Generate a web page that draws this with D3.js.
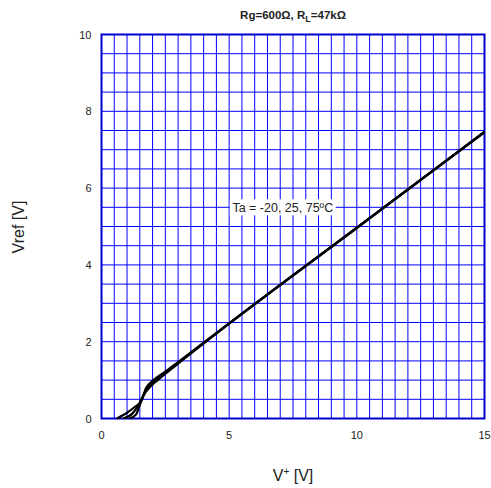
<!DOCTYPE html>
<html>
<head>
<meta charset="utf-8">
<script src="https://cdn.jsdelivr.net/npm/d3@7"></script>
<style>
  body { margin: 0; background: #fff; }
  text { font-family: "Liberation Sans", Arial, sans-serif; fill: #222; }
</style>
</head>
<body>
<div id="wrapper"></div>
<script>
// data: Vref vs V+ at three temperatures
const xTicks = [0, 5, 10, 15];
const yTicks = [0, 2, 4, 6, 8, 10];
const tempLabels = ["-20", "25", "75"];
const curveM20 = [[0.6, 0], [1.0, 0.15], [1.3, 0.3], [1.55, 0.45], [1.75, 0.8], [2.0, 0.98], [2.5, 1.22], [3, 1.47], [5, 2.48], [10, 4.97], [15, 7.45]];
const curve25 = [[0.85, 0], [1.2, 0.12], [1.45, 0.35], [1.6, 0.55], [1.8, 0.8], [2.1, 0.98], [2.5, 1.2], [3, 1.45], [5, 2.48], [10, 4.97], [15, 7.46]];
const curve75 = [[1.1, 0], [1.35, 0.1], [1.5, 0.35], [1.65, 0.6], [1.9, 0.82], [2.2, 1.0], [3, 1.43], [5, 2.47], [10, 4.96], [15, 7.47]];

const width = 491, height = 488;
const margin = { top: 34.5, right: 6.5, bottom: 69.5, left: 101.5 };
const innerW = width - margin.left - margin.right;
const innerH = height - margin.top - margin.bottom;

const svg = d3.select("#wrapper").append("svg")
  .attr("width", width).attr("height", height);

const bounds = svg.append("g")
  .attr("transform", `translate(${margin.left},${margin.top})`);

const x = d3.scaleLinear().domain([0, 15]).range([0, innerW]);
const y = d3.scaleLinear().domain([0, 10]).range([innerH, 0]);

// grid every 0.5
const grid = bounds.append("g");
grid.selectAll("line.v").data(d3.range(0.5, 15, 0.5)).join("line")
  .attr("x1", d => x(d)).attr("x2", d => x(d))
  .attr("y1", 0).attr("y2", innerH)
  .attr("stroke", "#0000ff").attr("stroke-width", 1);
grid.selectAll("line.h").data(d3.range(0.5, 10, 0.5)).join("line")
  .attr("y1", d => y(d)).attr("y2", d => y(d))
  .attr("x1", 0).attr("x2", innerW)
  .attr("stroke", "#0000ff").attr("stroke-width", 1);

// frame
bounds.append("rect")
  .attr("width", innerW).attr("height", innerH)
  .attr("fill", "none").attr("stroke", "#0000cc").attr("stroke-width", 2);

// tick labels
bounds.selectAll("text.xt").data(xTicks).join("text")
  .attr("x", d => x(d)).attr("y", innerH + 20)
  .attr("text-anchor", "middle").style("font-size", "11px")
  .text(d => d);
bounds.selectAll("text.yt").data(yTicks).join("text")
  .attr("x", -10).attr("y", d => y(d) + 4)
  .attr("text-anchor", "end").style("font-size", "11px")
  .text(d => d);

// curves
const line = d3.line().x(d => x(d[0])).y(d => y(d[1])).curve(d3.curveMonotoneX);
bounds.selectAll("path.curve").data([curveM20, curve25, curve75]).join("path")
  .attr("d", line)
  .attr("fill", "none").attr("stroke", "#000").attr("stroke-width", 2.2);

// annotation
const ann = bounds.append("g").attr("transform", `translate(${x(7.1)},${y(5.5)})`);
ann.append("rect").attr("x", -53).attr("y", -8).attr("width", 106).attr("height", 16).attr("fill", "#fff");
ann.append("text").attr("text-anchor", "middle").attr("y", 4.5).style("font-size", "12.5px")
  .text(`Ta = ${tempLabels.join(", ")}ºC`);

// title
const title = svg.append("text").attr("x", 293).attr("y", 19)
  .attr("text-anchor", "middle").style("font-size", "11.5px").style("font-weight", "bold");
title.append("tspan").text("Rg=600Ω, R");
title.append("tspan").attr("dy", 3).style("font-size", "9px").text("L");
title.append("tspan").attr("dy", -3).text("=47kΩ");

// axis labels
const xl = svg.append("text").attr("x", 293).attr("y", 481)
  .attr("text-anchor", "middle").style("font-size", "16px");
xl.append("tspan").text("V");
xl.append("tspan").attr("dy", -6).style("font-size", "10px").text("+");
xl.append("tspan").attr("dy", 6).text(" [V]");

svg.append("text")
  .attr("transform", `translate(24,227) rotate(-90)`)
  .attr("text-anchor", "middle").style("font-size", "16px")
  .text("Vref [V]");
</script>
</body>
</html>
